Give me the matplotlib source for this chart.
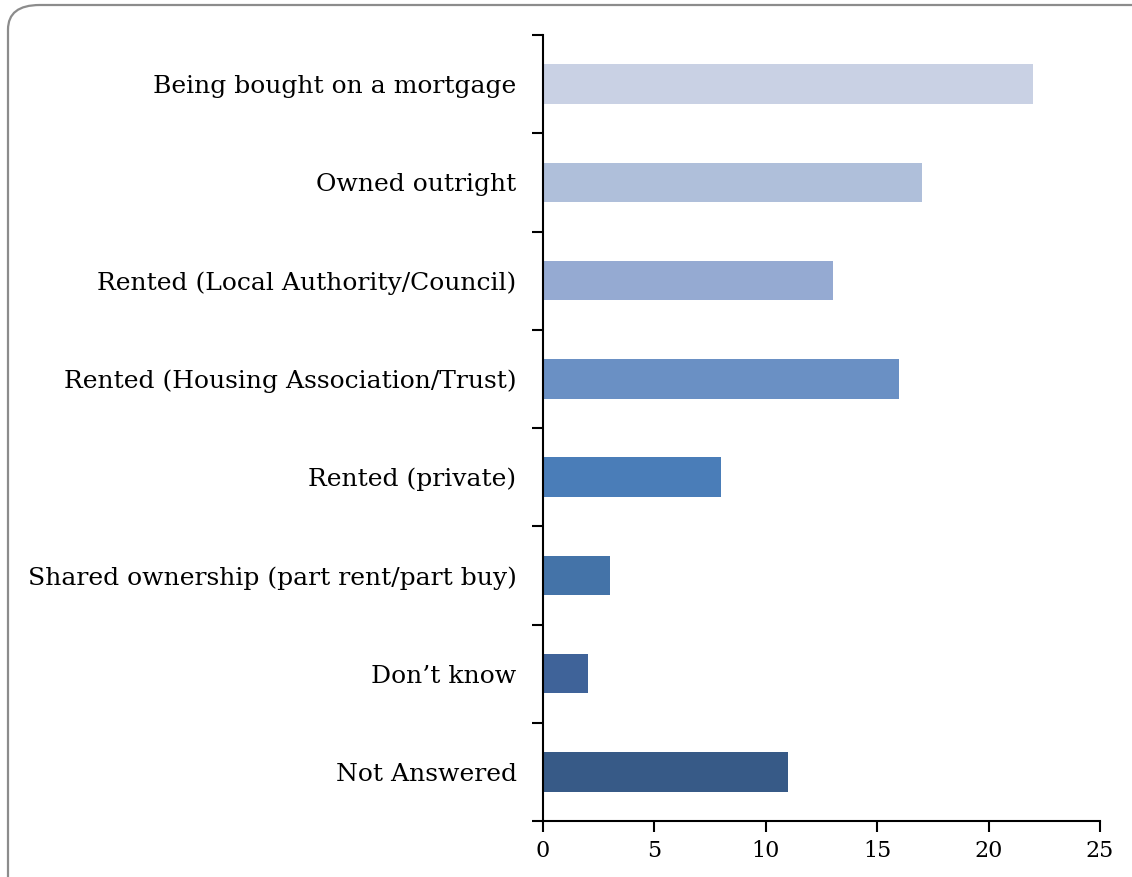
import matplotlib
matplotlib.use("Agg")
import matplotlib.pyplot as plt
from matplotlib.patches import FancyBboxPatch

CATEGORIES = [
    "Being bought on a mortgage",
    "Owned outright",
    "Rented (Local Authority/Council)",
    "Rented (Housing Association/Trust)",
    "Rented (private)",
    "Shared ownership (part rent/part buy)",
    "Don\u2019t know",
    "Not Answered",
]
VALUES = [22, 17, 13, 16, 8, 3, 2, 11]
COLORS = ["#c9d1e4", "#afbfda", "#95aad2", "#6a90c4",
          "#4a7db8", "#4473a8", "#3f6399", "#375a87"]
X_TICKS = [0, 5, 10, 15, 20, 25]

plt.rcParams["font.family"] = ["DejaVu Serif"]

fig = plt.figure(figsize=(11.32, 8.77), dpi=100)

# rounded grey frame around the chart
frame = FancyBboxPatch((8 / 1132, -0.1), 1.2, 1.1 - 5 / 877,
                       boxstyle="round,pad=0,rounding_size=0.028",
                       transform=fig.transFigure, facecolor="none",
                       edgecolor="#8c8c8c", linewidth=1.6, zorder=-1)
fig.patches.append(frame)

ax = fig.add_axes([543 / 1132, 1 - 821 / 877, 557 / 1132, 786 / 877])
ax.set_facecolor("none")

n = len(CATEGORIES)
ypos = list(range(n))[::-1]
ax.barh(ypos, VALUES, height=0.4, color=COLORS, zorder=2)

ax.set_xlim(0, 25)
ax.set_ylim(-0.5, n - 0.5)
ax.set_xticks(X_TICKS)
ax.set_xticklabels([str(t) for t in X_TICKS], fontsize=16)

ax.set_yticks(ypos)
ax.set_yticklabels(CATEGORIES, fontsize=18)
ax.tick_params(axis="y", length=0, pad=19)
ax.set_yticks([i - 0.5 for i in range(n + 1)], minor=True)
ax.tick_params(axis="y", which="minor", length=8, width=1.5, direction="out")
ax.tick_params(axis="x", length=8, width=1.5, direction="out", pad=6)

for side in ["top", "right"]:
    ax.spines[side].set_visible(False)
for side in ["left", "bottom"]:
    ax.spines[side].set_linewidth(1.5)

fig.savefig("out.png", dpi=100)
